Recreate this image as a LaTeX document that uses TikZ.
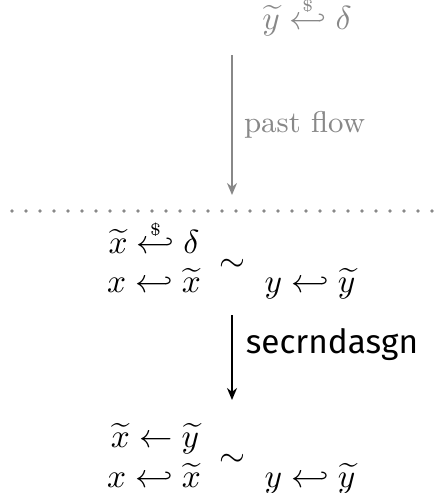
\documentclass[tikz,border=0pt]{standalone}
\usepackage{amsmath,amssymb}
\usepackage{fontspec}
\usepackage{xcolor}
\usetikzlibrary{arrows.meta,positioning}
\newfontfamily\stepfont{Fira Sans}
\definecolor{pastgray}{HTML}{888888}
\newcommand{\sampleto}{\mathrel{\ooalign{$\hookleftarrow$\cr\hidewidth\raisebox{5.3pt}{$\scriptscriptstyle\$$}\hidewidth\cr}}}

\begin{document}
\begin{tikzpicture}[x=0.3pt, y=-0.3pt,
  stmt/.style={inner sep=0pt, anchor=base},
  past/.style={text=pastgray},
  flow/.style={draw, line width=0.6pt, -{Stealth[length=3.6pt, width=3pt]}},
  sep/.style={draw=pastgray, line width=1.1pt, line cap=round, dash pattern=on 0pt off 4.2pt}]

  \useasboundingbox (0,0) rectangle (444,493);

  % before the step
  \node [stmt, past] (init) at (307,29) {$\widetilde{y} \sampleto \delta$};
  \coordinate (sepl) at (12,211);
  \coordinate (sepr) at (437,211);
  \draw [sep] (sepl) -- (sepr);

  % left / right program before
  \node [stmt] (lhsa) at (154,253) {$\widetilde{x} \sampleto \delta$};
  \node [stmt] (lhsb) at (154,292) {$x \hookleftarrow \widetilde{x}$};
  \node [inner sep=0pt] (sima) at (232,265) {$\sim$};
  \node [stmt] (rhsa) at (310,292) {$y \hookleftarrow \widetilde{y}$};

  % left / right program after
  \node [stmt] (lhsc) at (155,447) {$\widetilde{x} \leftarrow \widetilde{y}$};
  \node [stmt] (lhsd) at (154,487) {$x \hookleftarrow \widetilde{x}$};
  \node [inner sep=0pt] (simb) at (232,460) {$\sim$};
  \node [stmt] (rhsb) at (310,487) {$y \hookleftarrow \widetilde{y}$};

  \coordinate (pasttop) at (232,55);
  \coordinate (pastbot) at (232,195);
  \draw [flow, draw=pastgray] (pasttop) -- node [past, right=0pt, font=\small] (pastlbl) {past flow} (pastbot);

  \coordinate (steptop) at (232,315);
  \coordinate (stepbot) at (232,400);
  \draw [flow] (steptop) -- node [right=0.5pt, yshift=4pt] (steplbl) {\stepfont secrndasgn} (stepbot);
\end{tikzpicture}
\end{document}
